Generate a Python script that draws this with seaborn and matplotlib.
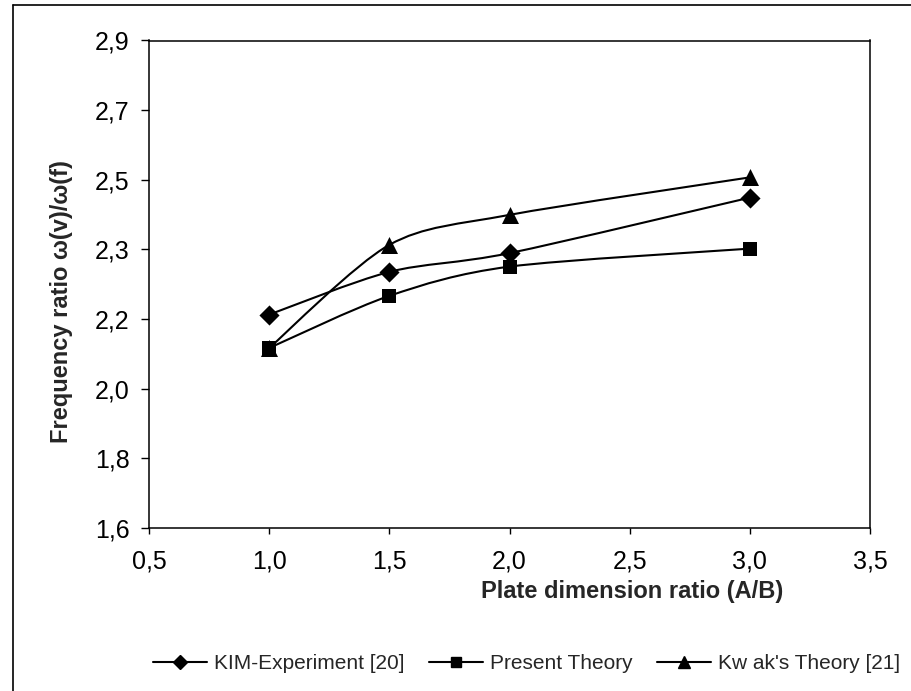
import numpy as np
import pandas as pd
import seaborn as sns
import matplotlib
matplotlib.use("Agg")
import matplotlib.pyplot as plt
from matplotlib.path import Path
from matplotlib.patches import PathPatch
from matplotlib.lines import Line2D

# ---- data ----
x_vals = [1.0, 1.5, 2.0, 3.0]
kim_experiment = [2.169, 2.283, 2.333, 2.481]
present_theory = [2.080, 2.219, 2.297, 2.345]
kwak_theory = [2.080, 2.355, 2.435, 2.535]
series_names = ["KIM-Experiment [20]", "Present Theory", "Kw ak's Theory [21]"]
xtick_vals = [0.5, 1.0, 1.5, 2.0, 2.5, 3.0, 3.5]
xtick_labels = ["0,5", "1,0", "1,5", "2,0", "2,5", "3,0", "3,5"]
ytick_labels = ["1,6", "1,8", "2,0", "2,2", "2,3", "2,5", "2,7", "2,9"]

df = pd.DataFrame({
    "x": x_vals * 3,
    "y": kim_experiment + present_theory + kwak_theory,
    "series": [series_names[0]] * 4 + [series_names[1]] * 4 + [series_names[2]] * 4,
})

sns.set_theme(style="white")
plt.rcParams["font.family"] = ["Liberation Sans", "DejaVu Sans"]

fig = plt.figure(figsize=(9.11, 6.91), dpi=100)
ax = fig.add_axes([149 / 911, 1 - 528 / 691, (870 - 149) / 911, (528 - 40.5) / 691])

markers = {series_names[0]: "D", series_names[1]: "s", series_names[2]: "^"}
msizes = {series_names[0]: 105, series_names[1]: 105, series_names[2]: 150}
leg_ms = {series_names[0]: 7.5, series_names[1]: 7.5, series_names[2]: 8.5}


def smooth_path(xs, ys, k=1 / 7.0):
    pts = np.column_stack([xs, ys])
    n = len(pts)
    verts = [pts[0]]
    codes = [Path.MOVETO]
    for i in range(n - 1):
        p0 = pts[i - 1] if i > 0 else pts[i]
        p1 = pts[i]
        p2 = pts[i + 1]
        p3 = pts[i + 2] if i + 2 < n else pts[i + 1]
        c1 = p1 + (p2 - p0) * k
        c2 = p2 - (p3 - p1) * k
        verts += [c1, c2, p2]
        codes += [Path.CURVE4] * 3
    return Path(verts, codes)


for name in series_names:
    sub = df[df["series"] == name]
    patch = PathPatch(smooth_path(sub["x"].values, sub["y"].values), facecolor="none",
                      edgecolor="black", lw=1.5, zorder=2)
    ax.add_patch(patch)
    sns.scatterplot(data=sub, x="x", y="y", marker=markers[name], color="black",
                    s=msizes[name], edgecolor="black", linewidth=0, legend=False, ax=ax, zorder=3)

ax.set_xlim(0.5, 3.5)
ax.set_ylim(1.6, 2.9)
ax.set_xticks(xtick_vals)
ax.set_xticklabels(xtick_labels)
ax.set_yticks(np.linspace(1.6, 2.9, len(ytick_labels)))
ax.set_yticklabels(ytick_labels)
ax.tick_params(axis="both", labelsize=18, colors="black", direction="out")
ax.tick_params(axis="y", length=6, width=1, pad=8, left=True)
ax.tick_params(axis="x", length=4.5, width=1, pad=11, bottom=True)
for sp in ax.spines.values():
    sp.set_visible(True)
    sp.set_color("black")
    sp.set_linewidth(1.1)

ax.set_xlabel("Plate dimension ratio (A/B)", fontsize=17, fontweight="bold")
ax.set_ylabel("Frequency ratio ω(v)/ω(f)", fontsize=17, fontweight="bold")
ax.xaxis.set_label_coords(0.67, -0.107)
ax.yaxis.set_label_coords(-0.106, 0.465)

handles = [Line2D([], [], color="black", lw=1.5, marker=markers[n], markersize=leg_ms[n])
           for n in series_names]
fig.legend(handles, series_names, loc="center", bbox_to_anchor=(0.578, 0.04), ncol=3,
           frameon=False, handlelength=2.6, columnspacing=1.2, handletextpad=0.3,
           prop={"family": ["Liberation Sans Narrow", "Liberation Sans"], "size": 15})

# outer chart border
fig.add_artist(Line2D([13 / 911, 1.0], [1 - 5 / 691, 1 - 5 / 691], transform=fig.transFigure,
                      color="black", lw=1.2))
fig.add_artist(Line2D([13 / 911, 13 / 911], [0.0, 1 - 5 / 691], transform=fig.transFigure,
                      color="black", lw=1.2))

fig.savefig("out.png", dpi=100, facecolor="white")
